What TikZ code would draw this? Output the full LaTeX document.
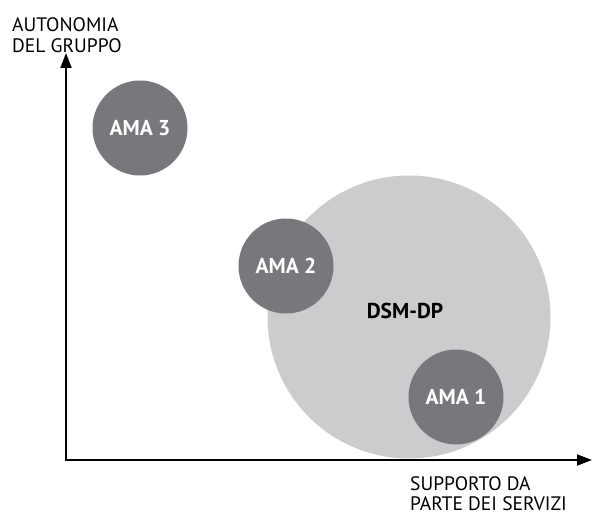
\documentclass[tikz,border=0pt]{standalone}
\usepackage{fontspec}
\setmainfont{PT Sans}
\usepackage{xcolor}
\usetikzlibrary{arrows.meta}
\usetikzlibrary{positioning}
\definecolor{darkc}{RGB}{119,120,123}
\definecolor{lightc}{RGB}{203,204,206}

\begin{document}
\begin{tikzpicture}[x=1pt,y=-1pt,
  every node/.style={inner sep=0pt,font=\fontsize{19.5}{21}\selectfont},
  ama/.style={circle,fill=darkc,minimum size=95pt,text=white,font=\fontsize{21.5}{24}\selectfont\bfseries},
  grp/.style={circle,fill=lightc,minimum size=283pt,font=\fontsize{21.5}{24}\selectfont\bfseries},
  lbl/.style={align=left,anchor=north west},
  axis/.style={line width=1.8pt,{Triangle[length=15pt,width=11pt]}-{Triangle[length=15pt,width=11pt]}},
]
\useasboundingbox (0,0) rectangle (596,516);
\node[grp](dsm) at(409,317){};
\node(dsmlab) at(405,311){\fontsize{21.5}{24}\selectfont\bfseries DSM-DP};
\node[ama](a2) at(286,266){AMA 2};
\node[ama](a1) at(456,397){AMA 1};
\node[ama](a3) at(140,128){AMA 3};
\coordinate(o) at(66,460); \coordinate(ytop) at(66,53); \coordinate(xend) at(592,460);
\draw[axis](ytop)--(o)--(xend);
\node[lbl](ylab) at(12,17.5){AUTONOMIA\\DEL GRUPPO};
\node[lbl](xlab) at(410,476){SUPPORTO DA\\[-1pt]PARTE DEI SERVIZI};
\end{tikzpicture}
\end{document}
